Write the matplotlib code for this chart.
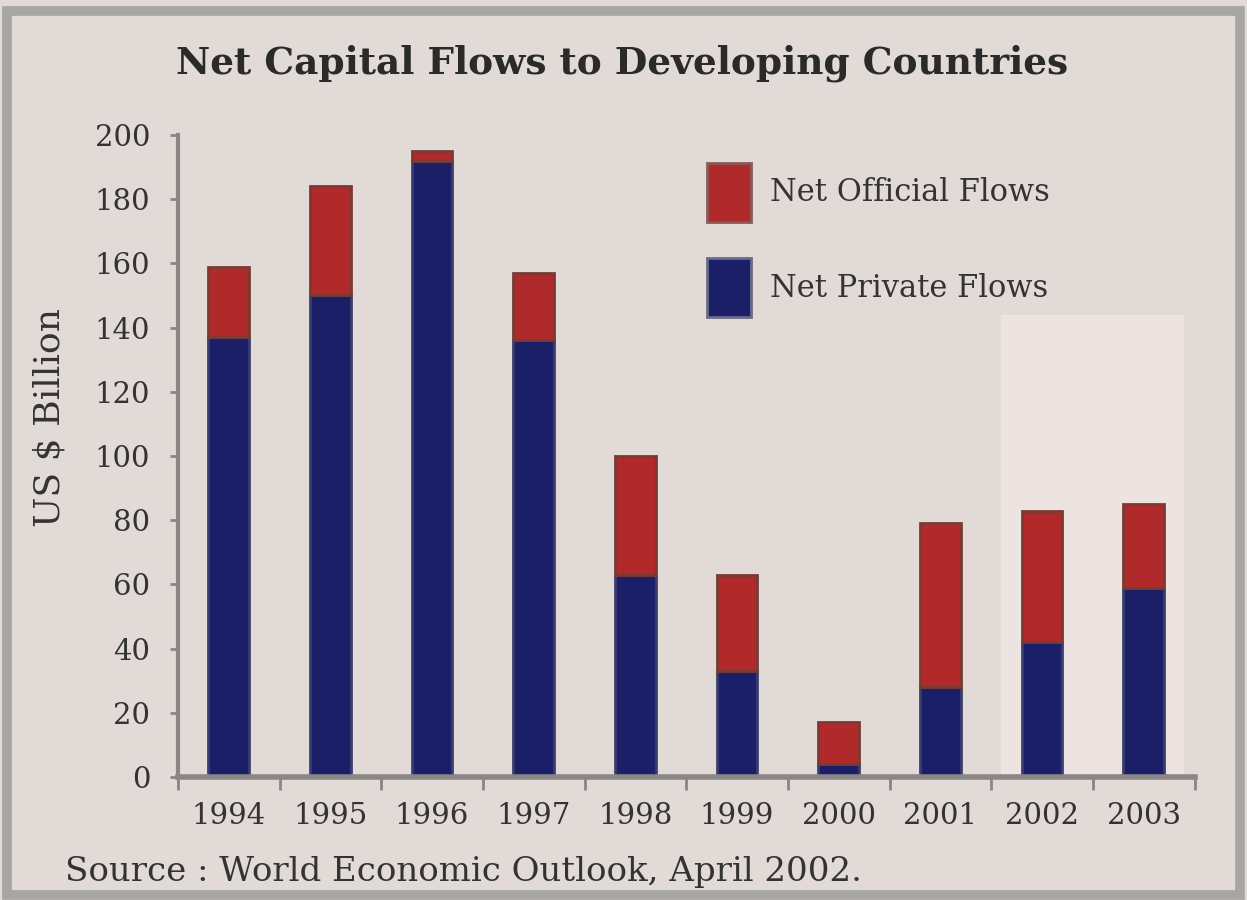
import matplotlib.pyplot as plt
from matplotlib.patches import Rectangle, Patch

years = ['1994', '1995', '1996', '1997', '1998', '1999', '2000', '2001', '2002', '2003']
private_flows = [137, 150, 192, 136, 63, 33, 4, 28, 42, 59]
total_flows = [159, 184, 195, 157, 100, 63, 17, 79, 83, 85]
official_flows = [t - p for t, p in zip(total_flows, private_flows)]
y_ticks = [0, 20, 40, 60, 80, 100, 120, 140, 160, 180, 200]

BG = '#e2dad7'
RED = '#b0292b'
NAVY = '#1b1f68'
GREY = '#8a8685'
TEXT = '#333333'

plt.rcParams['font.family'] = ['DejaVu Serif']

fig = plt.figure(figsize=(12.47, 9.0), dpi=100, facecolor=BG)
# grey frame round the picture
fig.patches.append(Rectangle((0.006, 0.006), 0.988, 0.982, transform=fig.transFigure,
                             fill=False, edgecolor='#a8a6a5', linewidth=7))

ax = fig.add_axes([0.1427, 0.1367, 0.8153, 0.7133])
ax.set_facecolor(BG)

x = list(range(len(years)))

# shaded forecast years
ax.add_patch(Rectangle((7.6, 0), 1.8, 144, facecolor='#ede3e0', edgecolor='none', zorder=0))

ax.bar(x, private_flows, width=0.4, color=NAVY, edgecolor='#3b3d6e', linewidth=2, zorder=2)
ax.bar(x, official_flows, bottom=private_flows, width=0.4, color=RED,
       edgecolor='#7a3a34', linewidth=2, zorder=2)

ax.set_xlim(-0.5, 9.5)
ax.set_ylim(0, 200)
ax.set_yticks(y_ticks)
ax.set_yticklabels([str(v) for v in y_ticks], fontsize=21, color=TEXT)
ax.set_xticks(x)
ax.set_xticklabels(years, fontsize=21, color=TEXT)
ax.tick_params(axis='x', length=0, pad=18)
ax.set_xticks([i - 0.5 for i in range(len(years) + 1)], minor=True)
ax.tick_params(axis='x', which='minor', length=9, width=2, color=GREY, direction='out')
ax.tick_params(axis='y', length=6, width=2, color=GREY, pad=14)

for s in ['top', 'right']:
    ax.spines[s].set_visible(False)
ax.spines['left'].set_color(GREY)
ax.spines['left'].set_linewidth(3)
ax.spines['bottom'].set_color(GREY)
ax.spines['bottom'].set_linewidth(4)

ax.set_ylabel('US $ Billion', fontsize=26, color=TEXT)
ax.yaxis.set_label_coords(-0.11, 0.56)

handles = [Patch(facecolor=RED, edgecolor='#8a5a55', linewidth=2, label='Net Official Flows'),
           Patch(facecolor=NAVY, edgecolor='#6a6a88', linewidth=2, label='Net Private Flows')]
fig.legend(handles=handles, loc='upper left', bbox_to_anchor=(0.545, 0.85), frameon=False,
           fontsize=22, handlelength=1.45, handleheight=2.6, labelspacing=1.2,
           handletextpad=0.6, labelcolor=TEXT)

fig.text(0.499, 0.93, 'Net Capital Flows to Developing Countries', ha='center', va='center',
         fontsize=27, fontweight='bold', color='#2a2a2a')
fig.text(0.052, 0.031, 'Source : World Economic Outlook, April 2002.', ha='left', va='center',
         fontsize=24.5, color=TEXT)

fig.savefig('out.png', dpi=100, facecolor=BG)
